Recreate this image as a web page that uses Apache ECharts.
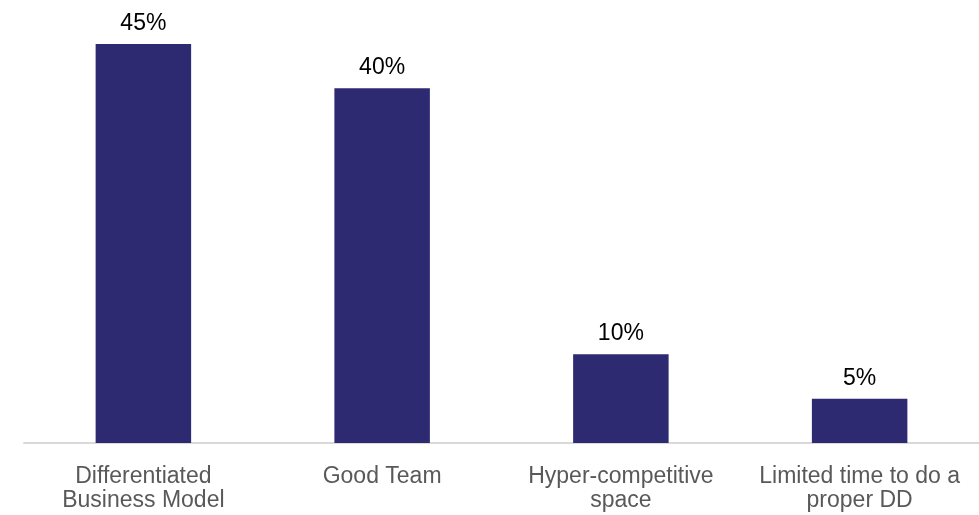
<!DOCTYPE html>
<html>
<head>
<meta charset="utf-8">
<script src="https://cdn.jsdelivr.net/npm/echarts@6/dist/echarts.min.js"></script>
<style>
  html, body { margin: 0; padding: 0; background: #ffffff; }
  #chart { width: 979px; height: 515px; }
</style>
</head>
<body>
<div id="chart"></div>
<script>
// Reasons cited, share of respondents (%)
const categories = [
  'Differentiated\nBusiness Model',
  'Good Team',
  'Hyper-competitive\nspace',
  'Limited time to do a\nproper DD'
];
const shares = [45, 40, 10, 5];

const chart = echarts.init(document.getElementById('chart'));
chart.setOption({
  animation: false,
  grid: { left: 24, right: 0, top: 44, bottom: 72 },
  xAxis: {
    type: 'category',
    data: categories,
    axisLine: { lineStyle: { color: '#d9d9d9', width: 2 } },
    axisTick: { show: false },
    axisLabel: {
      color: '#595959',
      fontFamily: 'Liberation Sans, Arial, sans-serif',
      fontSize: 23,
      lineHeight: 24,
      margin: 22,
      interval: 0
    }
  },
  yAxis: {
    type: 'value',
    min: 0,
    max: 45,
    show: false,
    splitLine: { show: false }
  },
  series: [{
    type: 'bar',
    data: shares,
    barWidth: '40%',
    itemStyle: { color: '#2e2a72' },
    label: {
      show: true,
      position: 'top',
      distance: 9,
      formatter: '{c}%',
      color: '#000000',
      fontFamily: 'Liberation Sans, Arial, sans-serif',
      fontSize: 23
    }
  }]
});
</script>
</body>
</html>
